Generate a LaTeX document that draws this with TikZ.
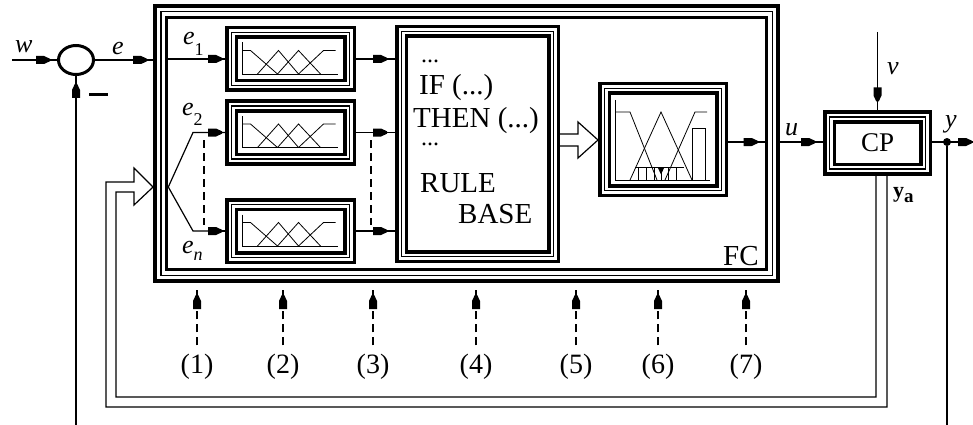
\documentclass[tikz,border=0pt]{standalone}
\usepackage{fontspec}
\setmainfont{Liberation Serif}
\usetikzlibrary{shapes.geometric,decorations.markings,calc}
\newcommand\lowsub[2]{\raisebox{-#1}{\fontsize{18pt}{18pt}\selectfont #2}}
\begin{document}
\begin{tikzpicture}[x=1pt, y=-1pt,
  wire/.style={line width=1.2pt},
  blk/.style={postaction={decorate}, decoration={markings,
      mark=at position -#1 with {\fill (-14pt,-4pt) -- (-6pt,-4pt) -- (0pt,-1.2pt) -- (0pt,1.2pt) -- (-6pt,4pt) -- (-14pt,4pt) -- cycle;
        \draw[solid, line width=1.2pt] (0pt,0pt) -- (#1,0pt);}}},
  blk/.default=6pt,
  tribox/.style={draw, line width=1.3pt, inner sep=0pt, outer sep=6.5pt,
      preaction={draw, line width=3.5pt, double=white, double distance=6pt}},
  bigbox/.style={draw, line width=1.6pt, inner sep=0pt, outer sep=7.6pt,
      preaction={draw, line width=3.6pt, double=white, double distance=8pt}},
  mf/.style={line width=0.8pt},
  hollow/.style={line width=1.2pt, line join=miter},
  dsh/.style={dash pattern=on 8pt off 5pt},
  big/.style={font=\fontsize{29pt}{29pt}\selectfont, inner sep=0pt, anchor=base west},
  lbl/.style={font=\fontsize{26pt}{26pt}\selectfont\itshape, inner sep=0pt, anchor=base west},
  num/.style={font=\fontsize{28pt}{28pt}\selectfont, inner sep=0pt, outer sep=9pt},
  mfs/.pic={
    \draw[mf] (-48,-16.5) -- (-48,15) -- (47,15);
    \draw[mf] (-48,-8.5) -- (-40,-8.5) -- (-13,15);
    \draw[mf] (-33,15) -- (-12,-8.5) -- (8,15);
    \draw[mf] (-13,15) -- (8,-8.5) -- (30,15);
    \draw[mf] (8,15) -- (33,-8.5) -- (45,-8.5);
  },
  defz/.pic={
    \draw[mf] (-48,-39.5) -- (-48,40.5) -- (47,40.5);
    \draw[mf] (-48,-27.5) -- (-33,-27.5) -- (-6,40.5);
    \draw[mf] (-33,40.5) -- (-2,-27.5) -- (29,40.5);
    \draw[mf] (2,40.5) -- (32,-27.5) -- (44,-27.5);
    \draw[mf] (29,40.5) -- (29,-11.5) -- (42,-11.5) -- (42,40.5);
    \draw[mf] (-28,27.5) -- (21,27.5);
    \foreach \hx in {-25,-17,-9,5,13} \draw[mf] (\hx,27.5) -- (\hx,40.5);
    \fill (-5.5,27.5) -- (1.5,27.5) -- (-2,35) -- cycle;
    \draw[mf] (-2,33) -- (-2,40.5);
  },
]
\useasboundingbox (0,0) rectangle (973,425);

% fuzzy controller frame and its inner edge
\node[bigbox, minimum width=611.6pt, minimum height=263.6pt] (fc) at (466.5,143.5) {};
\node[inner sep=0pt, outer sep=0pt, minimum width=596.4pt, minimum height=248.4pt] (fcin) at (466.5,143.5) {};

% fuzzification blocks
\node[tribox, minimum width=118pt, minimum height=53pt] (f1) at (290.5,59) {};
\node[tribox, minimum width=118pt, minimum height=53pt] (f2) at (290.5,132.5) {};
\node[tribox, minimum width=118pt, minimum height=53pt] (f3) at (290.5,231) {};
\pic at (f1) {mfs};
\pic at (f2) {mfs};
\pic at (f3) {mfs};

% rule base
\node[tribox, minimum width=152pt, minimum height=225pt] (rb) at (477.5,144) {};
\node[big, font=\fontsize{24pt}{24pt}\selectfont] (rd1) at (421,63) {...};
\node[big] (rif) at (419,95) {IF (...)};
\node[big] (rthen) at (413,128) {THEN (...)};
\node[big, font=\fontsize{24pt}{24pt}\selectfont] (rd2) at (421,145) {...};
\node[big] (rrule) at (420,192) {RULE};
\node[big] (rbase) at (458,223) {BASE};

% defuzzification block
\node[tribox, minimum width=117pt, minimum height=102pt] (df) at (663,139.5) {};
\pic at (df) {defz};

\node[big] (fct) at (723,265) {FC};

% controlled process
\node[tribox, minimum width=96pt, minimum height=52pt, font=\fontsize{27pt}{27pt}\selectfont] (cp) at (877.5,143) {CP};

% summing junction
\node[draw, ellipse, line width=3pt, minimum width=35pt, minimum height=29pt, inner sep=0pt, outer sep=1.5pt] (sum) at (76,60) {};
\node[fill, minimum width=19pt, minimum height=3pt, inner sep=0pt] (minus) at (98,95) {};
\node[circle, fill, minimum size=8pt, inner sep=0pt] (dot) at (947,142) {};

\coordinate (win) at (12,60);
\coordinate (vin) at (877.5,32);
\coordinate (yout) at (973,142);
\coordinate (fbl) at (76,425);
\coordinate (fbr) at (947,425);
\coordinate (fan) at (fcin.west |- 0,187);
\coordinate (k2) at (193,132.5);
\coordinate (k3) at (193,231);

% signal lines
\draw[wire, blk=7pt] (win) -- (sum.west);
\draw[wire, blk=6pt] (sum.east) -- (sum.east -| fc.west);
\draw[wire, blk=3pt] (f1.west -| fcin.west) -- (f1.west);
\draw[wire, blk=3pt] (fan) -- (k2) -- (f2.west);
\draw[wire, blk=3pt] (fan) -- (k3) -- (f3.west);
\draw[wire, dsh] (204,140) -- (204,225);
\draw[wire, blk=8pt] (f1.east) -- (f1.east -| rb.west);
\draw[wire, blk=8pt] (f2.east) -- (f2.east -| rb.west);
\draw[wire, blk=8pt] (f3.east) -- (f3.east -| rb.west);
\draw[wire, dsh] (371,140) -- (371,225);
\draw[hollow] (rb.east |- 0,134) -- (578,134) -- (578,122) -- (df.west |- 0,140)
   -- (578,158) -- (578,146) -- (rb.east |- 0,146);
\draw[wire, blk=7pt] (df.east |- 0,142) -- (fcin.east |- 0,142);
\draw[wire, blk=8pt] (fc.east |- 0,142) -- (cp.west |- 0,142);
\draw[wire, blk=9pt] (vin) -- (cp.north);
\draw[wire, blk=1pt] (cp.east |- 0,142) -- (yout);
\draw[wire] (dot) -- (fbr);
\draw[wire, blk=8pt] (fbl) -- (sum.south);

% measured outputs fed back to the controller
\draw[hollow] (cp.south -| 887,0) -- (887,407) -- (106,407) -- (106,182) -- (134,182) -- (134,168)
   -- (fc.west |- 0,187) -- (134,205) -- (134,192) -- (116,192) -- (116,397) -- (876,397) -- (cp.south -| 876,0);

% numbered access points
\foreach \i/\x in {1/197,2/283,3/373,4/476,5/576,6/658,7/746} {
  \node[num] (n\i) at (\x,367) {(\i)};
  \draw[wire, dsh, blk=5pt] (n\i.north) -- (\x,290);
}

% signal labels
\node[lbl] (lw) at (15,53) {w};
\node[lbl] (le) at (112,55) {e};
\node[lbl] (le1) at (183,45) {e\lowsub{11pt}{\upshape 1}};
\node[lbl] (le2) at (182,115) {e\lowsub{10pt}{\upshape 2}};
\node[lbl] (len) at (182,253) {e\lowsub{7pt}{n}};
\node[lbl] (lu) at (785,135) {u};
\node[lbl] (lv) at (887,75) {v};
\node[lbl] (ly) at (945,127) {y};
\node[font=\fontsize{22pt}{22pt}\selectfont\bfseries, inner sep=0pt, anchor=base west] (lya) at (893,197)
   {y\raisebox{-5pt}{\fontsize{19pt}{19pt}\selectfont a}};
\end{tikzpicture}
\end{document}
